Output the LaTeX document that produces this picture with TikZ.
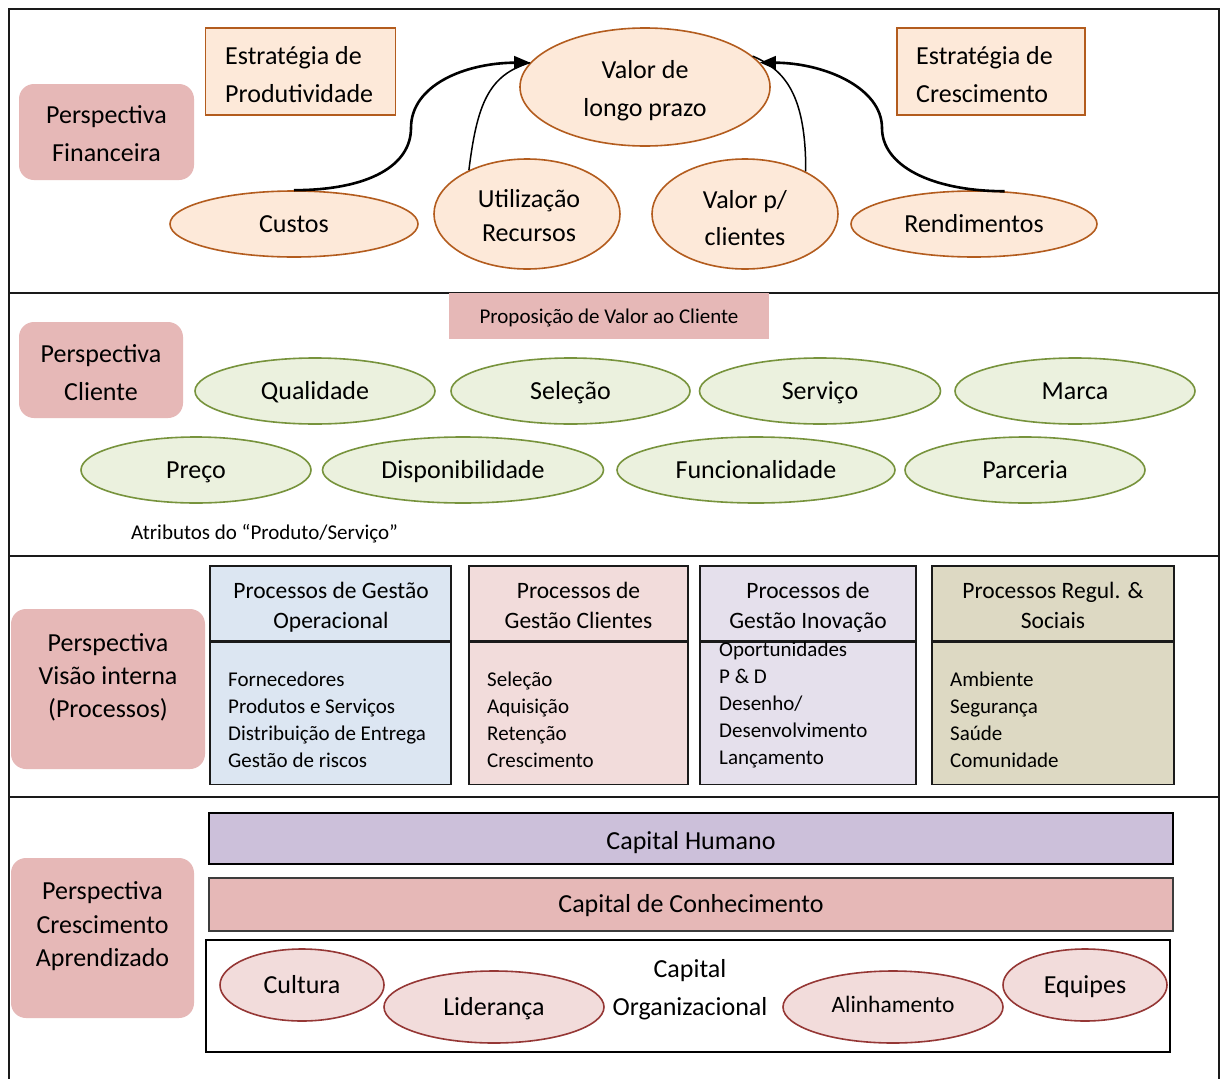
\documentclass[tikz,border=0pt]{standalone}
\usepackage{fontspec}
\setmainfont{Carlito}
\usetikzlibrary{shapes.geometric,arrows.meta}

\definecolor{perspfill}{HTML}{E6B8B7}
\definecolor{orfill}{HTML}{FDE9D9}
\definecolor{ordraw}{HTML}{B35C1E}
\definecolor{grfill}{HTML}{EBF1DE}
\definecolor{grdraw}{HTML}{77933C}
\definecolor{rdfill}{HTML}{F2DCDB}
\definecolor{rddraw}{HTML}{953735}
\definecolor{boxa}{HTML}{DCE6F2}
\definecolor{boxb}{HTML}{F2DCDB}
\definecolor{boxc}{HTML}{E5E0EC}
\definecolor{boxd}{HTML}{DDD9C3}
\definecolor{humano}{HTML}{CCC0DA}
\definecolor{framecol}{HTML}{1A1A1A}

\begin{document}
\begin{tikzpicture}[x=1pt,y=-1pt,
  % single-line text, caps centred on the node centre
  big/.style={font=\fontsize{26}{38}\selectfont, text height=22.7pt, text depth=6pt},
  small/.style={font=\fontsize{21}{27}\selectfont, text height=19.5pt, text depth=6pt},
  % multi-line text blocks with struts on first and last line
  mtext/.style={inner sep=0pt, align=center, execute at begin node=\strut,
    execute at end node=\strut},
  big2/.style={mtext, font=\fontsize{26}{38}\selectfont},
  persp/.style={fill=perspfill, rounded corners=15pt, inner sep=0pt},
  orbox/.style={draw=ordraw, fill=orfill, line width=1.6pt, inner sep=0pt},
  orell/.style={ellipse, draw=ordraw, fill=orfill, line width=1.6pt, inner sep=0pt},
  grell/.style={ellipse, draw=grdraw, fill=grfill, line width=1.6pt, inner sep=0pt, big,
    minimum height=66pt},
  rdell/.style={ellipse, draw=rddraw, fill=rdfill, line width=1.6pt, inner sep=0pt, big,
    minimum height=72pt},
  prochead/.style={draw=framecol, line width=1.4pt, inner sep=0pt, minimum width=241pt,
    minimum height=75pt},
  procbody/.style={draw=framecol, line width=1.4pt, inner sep=0pt, minimum width=241pt,
    minimum height=142pt},
  headtext/.style={mtext, font=\fontsize{23.5}{30}\selectfont},
  plist/.style={mtext, align=left, anchor=west, font=\fontsize{21}{27}\selectfont},
  bigarrow/.style={line width=2.6pt, -{Triangle[length=16pt,width=13pt]}},
  thinline/.style={line width=1.5pt},
  sep/.style={draw=framecol, line width=2pt}
]
\useasboundingbox (0,0) rectangle (1221,1079);
\fill[white] (0,0) rectangle (1221,1079);

% outer frame and row separators
\draw[sep] (9,1085) -- (9,9) -- (1219,9) -- (1219,1085);
\draw[sep] (9,293) -- (1219,293);
\draw[sep] (9,556) -- (1219,556);
\draw[sep] (9,797) -- (1219,797);

% ---------- Perspectiva Financeira ----------
\node[persp, minimum width=175pt, minimum height=96pt] (pf) at (106.5,132) {};
\node[big2] (pft) at (106.5,139) {Perspectiva\\Financeira};

\node[orbox, minimum width=190pt, minimum height=87pt] (ep) at (300.5,71.5) {};
\node[big2, align=left, anchor=west] (ept) at (225,79.8) {Estratégia de\\Produtividade};
\node[orbox, minimum width=188pt, minimum height=87pt] (ec) at (991,71.5) {};
\node[big2, align=left, anchor=west] (ect) at (916,79.8) {Estratégia de\\Crescimento};

\node[orell, minimum width=250pt, minimum height=118pt] (vl) at (645,87) {};
\node[big2] (vlt) at (645,93.8) {Valor de\\longo prazo};
\node[orell, big, minimum width=248pt, minimum height=66pt] (cu) at (294,224) {Custos};
\node[orell, minimum width=186pt, minimum height=110pt] (ut) at (527,214) {};
\node[mtext, font=\fontsize{26}{34}\selectfont] (utt) at (529,220.6) {Utilização\\Recursos};
\node[orell, minimum width=186pt, minimum height=110pt] (vp) at (745,214) {};
\node[mtext, font=\fontsize{26}{37}\selectfont] (vpt) at (745,223.5) {Valor p/\\clientes};
\node[orell, big, minimum width=246pt, minimum height=66pt] (rd) at (974,224) {Rendimentos};

\draw[thinline] (ut.143) .. controls (477,105) and (488,75) .. (vl.168);
\draw[thinline] (vp.35) .. controls (806,95) and (785,70) .. (vl.16);
\draw[bigarrow] (cu.north) .. controls (370,190) and (411,165) .. (411,128)
  .. controls (411,85) and (465,63) .. (vl.168);
\draw[bigarrow] (rd.47) .. controls (930,191) and (882,165) .. (882,128)
  .. controls (882,88) and (825,63) .. (vl.12);

% ---------- Perspectiva Cliente ----------
\node[persp, minimum width=164pt, minimum height=96pt] (pc) at (101,370) {};
\node[big2] (pct) at (101,378) {Perspectiva\\Cliente};
\node[fill=perspfill, minimum width=320pt, minimum height=46pt, inner sep=0pt, small,
  text height=20.5pt, text depth=5pt] (pv) at (609,316) {Proposição de Valor ao Cliente};

\node[grell, minimum width=240pt] (q) at (315,391) {Qualidade};
\node[grell, minimum width=239pt] (s) at (570.5,391) {Seleção};
\node[grell, minimum width=241pt] (sv) at (820,391) {Serviço};
\node[grell, minimum width=240pt] (m) at (1075,391) {Marca};
\node[grell, minimum width=230pt] (pr) at (196,470) {Preço};
\node[grell, minimum width=281pt] (d) at (463,470) {Disponibilidade};
\node[grell, minimum width=278pt] (fu) at (756,470) {Funcionalidade};
\node[grell, minimum width=240pt] (pa) at (1025,470) {Parceria};

\node[small, anchor=west, inner sep=0pt] (at) at (131,533)
  {Atributos do “Produto/Serviço”};

% ---------- Perspectiva Visão interna ----------
\node[persp, minimum width=194pt, minimum height=160pt] (pi) at (108,689) {};
\node[mtext, font=\fontsize{26}{33}\selectfont] (pit) at (108,680.8)
  {Perspectiva\\Visão interna\\(Processos)};

\node[prochead, fill=boxa] (h1) at (330.5,603.5) {};
\node[procbody, fill=boxa, anchor=north] (b1) at (h1.south) {};
\node[headtext] (h1t) at (331,609.6) {Processos de Gestão\\Operacional};
\node[plist] (l1) at (228,723.4)
  {Fornecedores\\Produtos e Serviços\\Distribuição de Entrega\\Gestão de riscos};

\node[prochead, fill=boxb, minimum width=219pt] (h2) at (578.5,603.5) {};
\node[procbody, fill=boxb, minimum width=219pt, anchor=north] (b2) at (h2.south) {};
\node[headtext] (h2t) at (578.5,609.6) {Processos de\\Gestão Clientes};
\node[plist] (l2) at (487,723.4) {Seleção\\Aquisição\\Retenção\\Crescimento};

\node[prochead, fill=boxc, minimum width=216pt] (h3) at (808,603.5) {};
\node[procbody, fill=boxc, minimum width=216pt, anchor=north] (b3) at (h3.south) {};
\node[headtext] (h3t) at (808,609.6) {Processos de\\Gestão Inovação};
\node[plist] (l3) at (719,707.6)
  {Oportunidades\\P \& D\\Desenho/\\Desenvolvimento\\Lançamento};

\node[prochead, fill=boxd, minimum width=242pt] (h4) at (1053,603.5) {};
\node[procbody, fill=boxd, minimum width=242pt, anchor=north] (b4) at (h4.south) {};
\node[headtext] (h4t) at (1053,609.6) {Processos Regul. \&\\Sociais};
\node[plist] (l4) at (950,723.4) {Ambiente\\Segurança\\Saúde\\Comunidade};

% ---------- Perspectiva Crescimento Aprendizado ----------
\node[persp, minimum width=183pt, minimum height=160pt] (pa2) at (102.5,938) {};
\node[mtext, font=\fontsize{26}{33.5}\selectfont] (pat) at (102.5,929.2)
  {Perspectiva\\Crescimento\\Aprendizado};

\node[draw=black, fill=humano, line width=2.4pt, minimum width=964pt, minimum height=51pt,
  inner sep=0pt, big, text height=25pt, text depth=3.3pt] (ch) at (691,838.5) {Capital Humano};
\node[draw=framecol!85, fill=perspfill, line width=2pt, minimum width=964pt, minimum height=53pt,
  inner sep=0pt, big] (cc) at (691,904.5) {Capital de Conhecimento};
\node[draw=black, fill=white, line width=1.5pt, minimum width=964pt, minimum height=112pt,
  inner sep=0pt] (co) at (688,996) {};
\node[big2] (cot) at (690,992.8) {Capital\\Organizacional};

\node[rdell, minimum width=164pt] (cul) at (302,985) {Cultura};
\node[rdell, minimum width=220pt] (lid) at (494,1007) {Liderança};
\node[rdell, minimum width=220pt, font=\fontsize{23.5}{28}\selectfont,
  text height=17pt, text depth=6pt] (ali) at (893,1007) {Alinhamento};
\node[rdell, minimum width=164pt] (eq) at (1085,985) {Equipes};

\end{tikzpicture}
\end{document}
